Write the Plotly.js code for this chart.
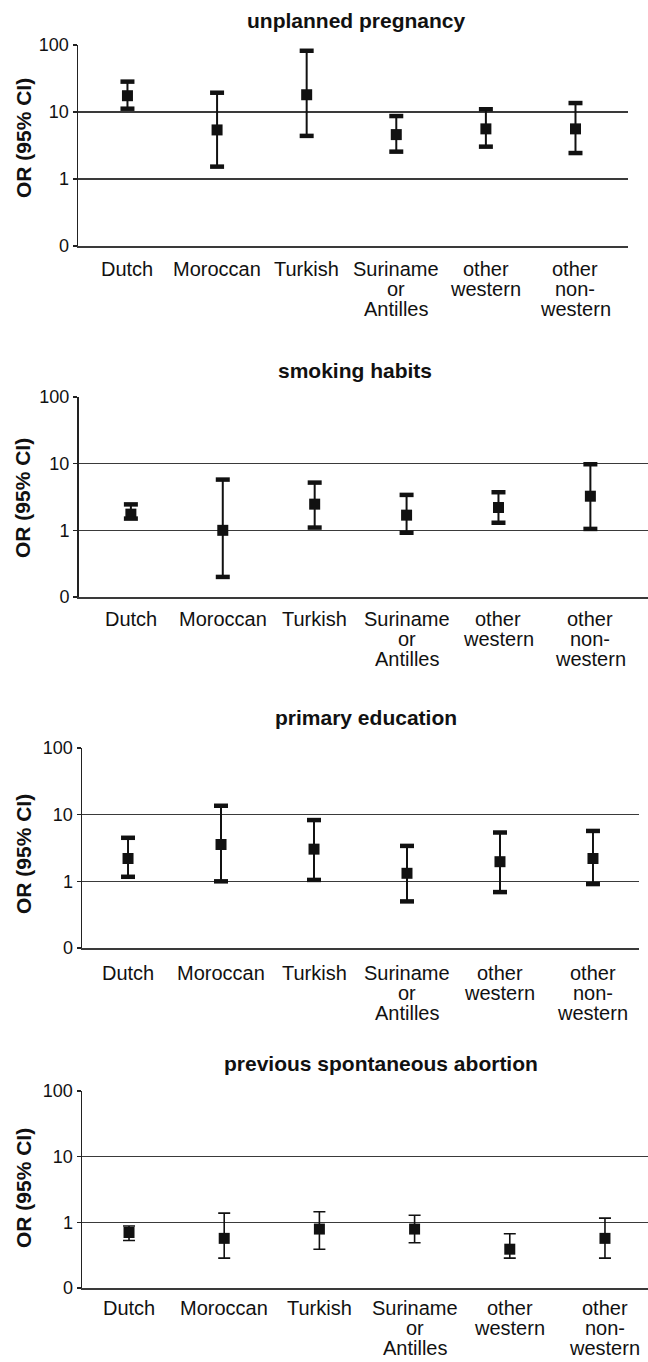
<!DOCTYPE html>
<html>
<head>
<meta charset="utf-8">
<script src="https://cdn.plot.ly/plotly-3.0.1.min.js"></script>
<style>
  html, body { margin: 0; padding: 0; background: #fff; }
  #chart { width: 648px; height: 1362px; }
</style>
</head>
<body>
<div id="chart"></div>
<script>
// ---- data ----
var categories = ['Dutch', 'Moroccan', 'Turkish', 'Suriname or Antilles', 'other western', 'other non-western'];
var categoryLabels = ['Dutch', 'Moroccan', 'Turkish', 'Suriname<br>or<br>Antilles', 'other<br>western', 'other<br>non-<br>western'];
var panelTitles = ['unplanned pregnancy', 'smoking habits', 'primary education', 'previous spontaneous abortion'];
var yTickValues = [0.1, 1, 10, 100];
var yTickLabels = ['0', '1', '10', '100'];
var yAxisTitle = 'OR (95% CI)';

var pregnancyOR = [17.5, 5.4, 18.1, 4.6, 5.6, 5.6];
var pregnancyLow = [11.2, 1.53, 4.4, 2.56, 3.04, 2.44];
var pregnancyHigh = [28.4, 19.4, 82, 8.7, 11.0, 13.6];

var smokingOR = [1.75, 1.0, 2.47, 1.69, 2.2, 3.25];
var smokingLow = [1.5, 0.2, 1.1, 0.92, 1.3, 1.05];
var smokingHigh = [2.45, 5.77, 5.2, 3.4, 3.73, 9.8];

var educationOR = [2.2, 3.57, 3.04, 1.32, 1.97, 2.2];
var educationLow = [1.17, 1.0, 1.05, 0.5, 0.69, 0.91];
var educationHigh = [4.5, 13.6, 8.3, 3.4, 5.4, 5.7];

var abortionOR = [0.7, 0.57, 0.79, 0.79, 0.39, 0.57];
var abortionLow = [0.53, 0.285, 0.39, 0.49, 0.285, 0.285];
var abortionHigh = [0.88, 1.38, 1.45, 1.28, 0.67, 1.16];

// ---- layout geometry (pixels) ----
var W = 648, H = 1362;
var FONT = 'Liberation Sans, Arial, Helvetica, sans-serif';
var panels = [
  {or: pregnancyOR, lo: pregnancyLow, hi: pregnancyHigh, left: 78, right: 628, top: 45, bottom: 246,
   xr: [-0.552, 5.586], tx: 356, ty: 20, yt: 138, ly: 269, thickCaps: true},
  {or: smokingOR, lo: smokingLow, hi: smokingHigh, left: 78.5, right: 648, top: 397, bottom: 597,
   xr: [-0.570, 5.627], tx: 355, ty: 370, yt: 498, ly: 619, thickCaps: true},
  {or: educationOR, lo: educationLow, hi: educationHigh, left: 82, right: 639, top: 748, bottom: 948,
   xr: [-0.495, 5.495], tx: 366, ty: 717, yt: 854, ly: 973, thickCaps: true},
  {or: abortionOR, lo: abortionLow, hi: abortionHigh, left: 82, right: 648, top: 1091, bottom: 1288,
   xr: [-0.494, 5.452], tx: 381, ty: 1063, yt: 1188, ly: 1308, thickCaps: false}
];

var data = [];
var layout = {
  width: W, height: H,
  margin: {l: 0, r: 0, t: 0, b: 0},
  paper_bgcolor: '#fff', plot_bgcolor: '#fff',
  showlegend: false,
  hovermode: false,
  font: {family: FONT, color: '#111'},
  annotations: []
};

panels.forEach(function (p, i) {
  var n = i === 0 ? '' : String(i + 1);
  var xa = 'x' + n, ya = 'y' + n;
  var up = p.hi.map(function (v, k) { return v - p.or[k]; });
  var down = p.lo.map(function (v, k) { return p.or[k] - v; });

  data.push({
    type: 'scatter', mode: 'markers', xaxis: xa, yaxis: ya,
    x: categories, y: p.or,
    marker: {symbol: 'square', size: 11, color: '#111'},
    error_y: {type: 'data', symmetric: false, array: up, arrayminus: down,
              color: '#111', thickness: p.thickCaps ? 2 : 1.6, width: p.thickCaps ? 0 : 6},
    cliponaxis: false
  });
  if (p.thickCaps) {
    data.push({
      type: 'scatter', mode: 'markers', xaxis: xa, yaxis: ya,
      x: categories.concat(categories), y: p.hi.concat(p.lo),
      marker: {symbol: 'line-ew', size: 10, color: '#111', line: {color: '#111', width: 4.5}},
      cliponaxis: false
    });
  }

  layout['xaxis' + n] = {
    domain: [p.left / W, p.right / W],
    anchor: ya,
    type: 'category',
    categoryorder: 'array', categoryarray: categories,
    range: p.xr,
    showticklabels: false, ticks: '',
    showgrid: false, zeroline: false,
    showline: true, linecolor: '#3a3a3a', linewidth: 1.5
  };
  layout['yaxis' + n] = {
    domain: [1 - p.bottom / H, 1 - p.top / H],
    anchor: xa,
    type: 'log',
    range: [-1, 2],
    tickmode: 'array', tickvals: yTickValues, ticktext: yTickLabels,
    tickfont: {family: FONT, size: 18, color: '#111'},
    ticks: 'outside', ticklen: 4, tickwidth: 1.5, tickcolor: '#222',
    showline: true, linecolor: '#222', linewidth: 1.5,
    showgrid: true, gridcolor: '#3a3a3a', gridwidth: 1.4,
    zeroline: false
  };

  // panel title
  layout.annotations.push({
    text: '<b>' + panelTitles[i] + '</b>', xref: 'paper', yref: 'paper',
    x: p.tx / W, y: 1 - p.ty / H, xanchor: 'center', yanchor: 'middle',
    showarrow: false, font: {family: FONT, size: 21, color: '#111'}
  });
  // y-axis title
  layout.annotations.push({
    text: '<b>' + yAxisTitle + '</b>', xref: 'paper', yref: 'paper',
    x: 23 / W, y: 1 - p.yt / H, xanchor: 'center', yanchor: 'middle', textangle: -90,
    showarrow: false, font: {family: FONT, size: 21, color: '#111'}
  });
  // category labels (one annotation per line for tight line spacing)
  categoryLabels.forEach(function (lab, k) {
    lab.split('<br>').forEach(function (line, j) {
      layout.annotations.push({
        text: line, xref: xa, yref: 'paper',
        x: categories[k], y: 1 - (p.ly + 20 * j) / H,
        xanchor: 'center', yanchor: 'middle', showarrow: false,
        font: {family: FONT, size: 20, color: '#111'}
      });
    });
  });
});

Plotly.newPlot('chart', data, layout, {staticPlot: true, displayModeBar: false});
</script>
</body>
</html>
